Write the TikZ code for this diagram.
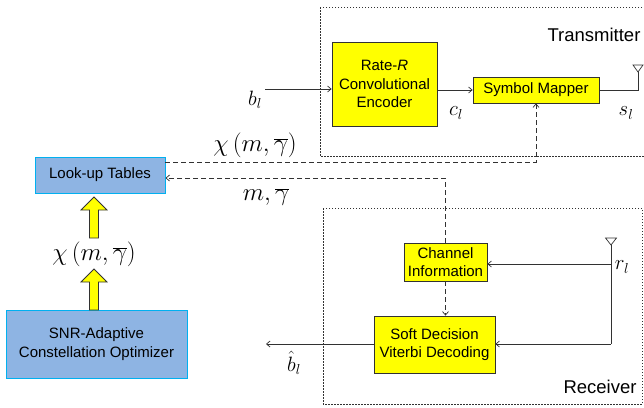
\documentclass[tikz,border=0pt]{standalone}
\usepackage{fontspec}
\setmainfont{Liberation Sans}
\usetikzlibrary{arrows.meta,calc}
\definecolor{boxyellow}{RGB}{255,255,0}
\definecolor{boxblue}{RGB}{142,180,227}
\definecolor{boxcyan}{RGB}{0,176,240}
\definecolor{linegray}{RGB}{50,50,50}
\begin{document}
\begin{tikzpicture}[x=1pt,y=-1pt,
  ybox/.style={draw=linegray, fill=boxyellow, line width=0.8pt, inner sep=0pt, align=center, font=\fontsize{15}{18.5}\selectfont},
  bbox/.style={draw=boxcyan, fill=boxblue, line width=1pt, inner sep=0pt, align=center, font=\fontsize{15}{18.5}\selectfont},
  sig/.style={draw=linegray, line width=0.7pt, -{Straight Barb[length=3.5pt,width=6pt]}},
  sigline/.style={draw=linegray, line width=0.7pt},
  ctl/.style={draw=linegray, line width=0.7pt, dash pattern=on 5pt off 3pt, -{Straight Barb[length=3.5pt,width=6pt]}},
  region/.style={draw=linegray, line width=0.8pt, dash pattern=on 1.5pt off 1.5pt},
  mlab/.style={font=\fontsize{26}{30}\selectfont, inner sep=0pt},
  slab/.style={font=\fontsize{22}{26}\selectfont, inner sep=0pt},
  rlab/.style={font=\fontsize{18.5}{22}\selectfont, inner sep=0pt},
  antenna/.style={draw=linegray, line width=0.7pt, fill=white},
  blockarrow/.style={draw=linegray, fill=boxyellow, line width=0.8pt},
]
\useasboundingbox (0,0) rectangle (644,407);

% regions
\draw[region] (320,7) rectangle (650,156);
\draw[region] (323,208) rectangle (642,404);
\node[rlab] (tx) at (594,35) {Transmitter};
\node[rlab] (rx) at (600,387) {Receiver};

% boxes
\node[ybox, minimum width=105pt, minimum height=84pt] (enc) at (384.5,84) {Rate-\textit{R}\\Convolutional\\Encoder};
\node[ybox, minimum width=126pt, minimum height=26pt] (map) at (536,90) {Symbol Mapper};
\node[ybox, minimum width=83pt, minimum height=38pt] (ch) at (445.5,262) {Channel\\Information};
\node[ybox, minimum width=121pt, minimum height=57pt] (sd) at (434.5,344.5) {Soft Decision\\Viterbi Decoding};
\node[bbox, minimum width=130pt, minimum height=36pt] (lut) at (100,175) {Look-up Tables};
\node[bbox, minimum width=181pt, minimum height=68pt] (snr) at (96.5,344) {SNR-Adaptive\\Constellation Optimizer};

% labels
\node[slab] (bl) at (255,100) {$b_l$};
\node[slab] (cl) at (456,113) {$c_l$};
\node[slab] (sl) at (626,113) {$s_l$};
\node[slab] (rl) at (622,267) {$r_l$};
\node[slab] (bhat) at (294,363) {$\hat{b}_l$};
\node[mlab] (chitop) at (255,145) {$\chi\left(m,\overline{\gamma}\right)$};
\node[mlab] (mg) at (266,197) {$m,\overline{\gamma}$};
\node[mlab] (chimid) at (94,254) {$\chi\left(m,\overline{\gamma}\right)$};

% coordinates
\coordinate (bin) at (265,89);
\coordinate (tant) at (638,90);
\coordinate (ranttop) at (611,245);
\coordinate (rantbot) at (611,344);
\coordinate (rbranch) at (611,264);
\coordinate (bout) at (266,344);
\coordinate (d1) at (165,162);
\coordinate (d2) at (165,178);

% transmitter chain
\draw[sig] (bin) -- (bin -| enc.west);
\draw[sig] (enc.east |- map.west) -- (map.west);
\draw[sigline] (map.east) -- (tant) -- ($(tant)+(0,-18)$);
\draw[antenna] ($(tant)+(0,-18)$) -- ($(tant)+(-5,-25)$) -- ($(tant)+(5,-25)$) -- cycle;

% dashed control lines
\draw[ctl] (d1) -| (map.south);
\draw[ctl] (ch.north) |- (lut.east |- d2);

% receiver
\draw[antenna] (ranttop) -- ($(ranttop)+(-5.5,-7)$) -- ($(ranttop)+(5.5,-7)$) -- cycle;
\draw[sigline] (ranttop) -- (rantbot);
\draw[sig] (rantbot) -- (rantbot -| sd.east);
\draw[sig] (rbranch) -- (rbranch -| ch.east);
\draw[ctl] (ch.south) -- (ch.south |- sd.north);
\draw[sig] (sd.west |- bout) -- (bout);

% block arrows
\draw[blockarrow] (89.5,238) -- (89.5,210) -- (81,210) -- (94,197) -- (107,210) -- (98.5,210) -- (98.5,238) -- cycle;
\draw[blockarrow] (89.5,310) -- (89.5,282) -- (81,282) -- (94,269) -- (107,282) -- (98.5,282) -- (98.5,310) -- cycle;
\end{tikzpicture}
\end{document}
